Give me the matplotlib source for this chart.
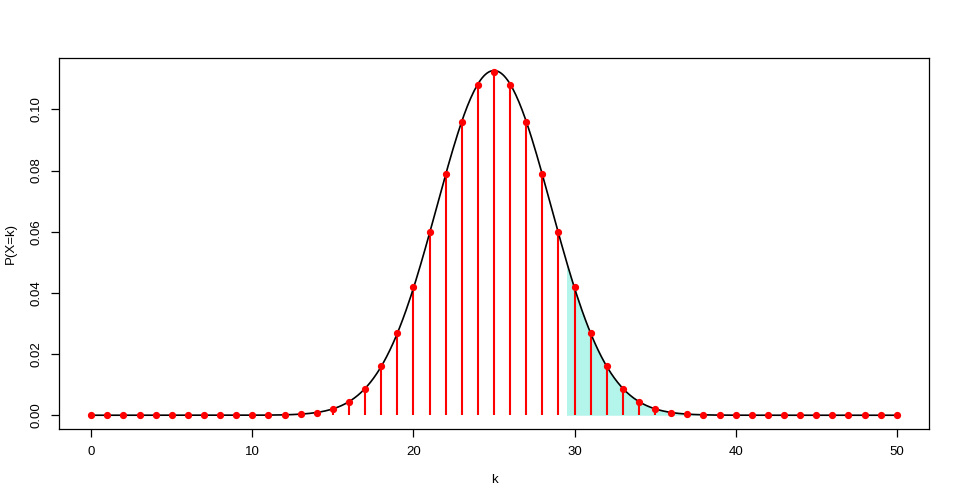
import matplotlib.pyplot as plt
import numpy as np

plt.rcParams['font.family'] = ['Liberation Sans', 'DejaVu Sans']

# valores de k y probabilidades (binomial n=50, p=0.5)
k = np.arange(0, 51)
prob = [0.0000, 0.0000, 0.0000, 0.0000, 0.0000, 0.0000, 0.0000, 0.0000, 0.0000, 0.0000,
        0.0000, 0.0000, 0.0001, 0.0003, 0.0008, 0.0020, 0.0044, 0.0087, 0.0160, 0.0270,
        0.0419, 0.0598, 0.0788, 0.0960, 0.1080, 0.1123, 0.1080, 0.0960, 0.0788, 0.0598,
        0.0419, 0.0270, 0.0160, 0.0087, 0.0044, 0.0020, 0.0008, 0.0003, 0.0001, 0.0000,
        0.0000, 0.0000, 0.0000, 0.0000, 0.0000, 0.0000, 0.0000, 0.0000, 0.0000, 0.0000,
        0.0000]

# aproximacion normal: media y desviacion
media = 25
desv = 3.54
corte = 29.5

def normal(x):
    return np.exp(-(x - media)**2 / (2 * desv**2)) / (desv * np.sqrt(2 * np.pi))

xs = np.linspace(0, 50, 500)

fig = plt.figure(figsize=(9.59, 5.03), dpi=100)
ax = fig.add_axes([59 / 959, 1 - 429 / 503, 870 / 959, 371 / 503])

# area sombreada desde 29.5 (correccion por continuidad)
xz = np.concatenate([[corte], xs[xs >= corte]])
ax.fill_between(xz, 0, normal(xz), color='#B3F5EA', linewidth=0, zorder=1)

ax.vlines(k, 0, prob, color='red', linewidth=1.5, zorder=2)
ax.plot(xs, normal(xs), color='black', linewidth=1.2, zorder=3)
ax.plot(k, prob, 'o', color='red', markersize=4.2, zorder=4)

ax.set_xlim(-2, 52)
ax.set_ylim(-0.0045, 0.1168)
ax.set_xticks([0, 10, 20, 30, 40, 50])
ax.set_yticks([0.00, 0.02, 0.04, 0.06, 0.08, 0.10])
ax.set_yticklabels(['0.00', '0.02', '0.04', '0.06', '0.08', '0.10'], rotation=90, va='center')
ax.tick_params(labelsize=9.5, length=6, width=0.9, pad=6)
for s in ax.spines.values():
    s.set_linewidth(0.9)

ax.set_xlabel('k', fontsize=9.5, labelpad=12)
ax.set_ylabel('P(X=k)', fontsize=9.5, labelpad=10)

fig.savefig('out.png', dpi=100)
